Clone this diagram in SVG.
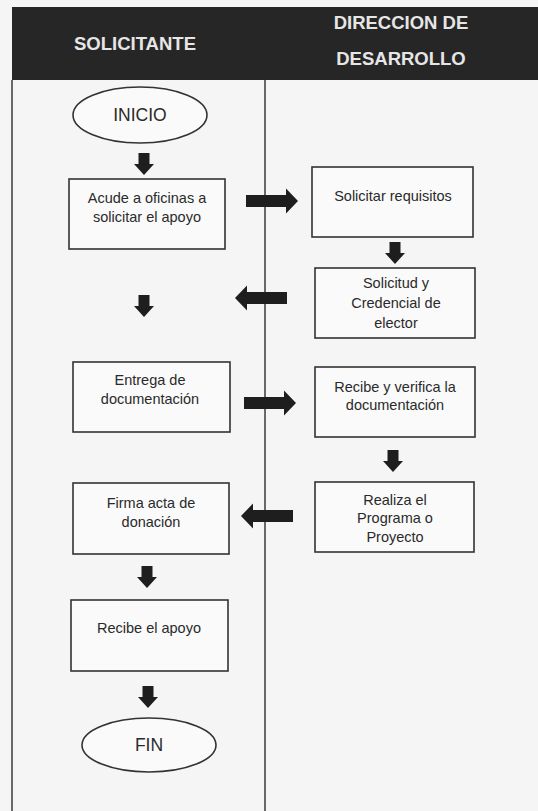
<svg xmlns="http://www.w3.org/2000/svg" width="538" height="811" viewBox="0 0 538 811">
<defs>
<style>
.bg{fill:#f5f5f5}
.hdr{fill:#262626}
.ht{font-family:"Liberation Sans",Arial,sans-serif;font-weight:bold;font-size:18.5px;fill:#e6e6e6;text-anchor:middle}
.lane{stroke:#3a3a3a;stroke-width:1.5;fill:none}
.box{fill:#fafafa;stroke:#333;stroke-width:1.6}
.t{font-family:"Liberation Sans",Arial,sans-serif;font-size:14.5px;fill:#2a2a2a;text-anchor:middle}
.big{font-size:17.5px}
.arr{fill:#1e1e1e}
</style>
<path id="ar" d="M0,-6 L40,-6 L40,-12.5 L52,0 L40,12.5 L40,6 L0,6 Z"/>
<path id="ad" d="M-5.5,0 L5.5,0 L5.5,11 L10,11 L0,22 L-10,11 L-5.5,11 Z"/>
</defs>
<rect class="bg" x="0" y="0" width="538" height="811"/>
<g id="header">
<rect class="hdr" x="12" y="7" width="526" height="73"/>
<text class="ht" x="135" y="50">SOLICITANTE</text>
<text class="ht" x="401" y="29">DIRECCION DE</text>
<text class="ht" x="401" y="65">DESARROLLO</text>
</g>
<g id="lanes">
<line class="lane" x1="12" y1="80" x2="12" y2="811"/>
<line class="lane" x1="265" y1="80" x2="265" y2="811"/>
</g>
<g id="connectors">
<use href="#ad" class="arr" x="144" y="153"/>
<use href="#ar" class="arr" x="246" y="201"/>
<use href="#ad" class="arr" x="395" y="242"/>
<use href="#ar" class="arr" transform="translate(287,298) scale(-1,1)"/>
<use href="#ad" class="arr" x="144" y="295"/>
<use href="#ar" class="arr" x="244" y="403"/>
<use href="#ad" class="arr" x="393" y="450"/>
<use href="#ar" class="arr" transform="translate(293,516) scale(-1,1)"/>
<use href="#ad" class="arr" x="147" y="566"/>
<use href="#ad" class="arr" x="148" y="686"/>
</g>
<g id="inicio">
<ellipse class="box" cx="140" cy="115" rx="67" ry="28"/>
<text class="t big" x="140" y="121">INICIO</text>
</g>
<g id="acude">
<rect class="box" x="69" y="179" width="156" height="70"/>
<text class="t" x="147" y="203">Acude a oficinas a</text>
<text class="t" x="147" y="222">solicitar el apoyo</text>
</g>
<g id="solicitar">
<rect class="box" x="312" y="167" width="161" height="70"/>
<text class="t" x="393" y="201">Solicitar requisitos</text>
</g>
<g id="solicitud">
<rect class="box" x="315" y="268" width="160" height="70"/>
<text class="t" x="396" y="288">Solicitud y</text>
<text class="t" x="396" y="308">Credencial de</text>
<text class="t" x="396" y="328">elector</text>
</g>
<g id="entrega">
<rect class="box" x="73" y="362" width="157" height="70"/>
<text class="t" x="150" y="385">Entrega de</text>
<text class="t" x="150" y="404">documentación</text>
</g>
<g id="recibe_verifica">
<rect class="box" x="315" y="367" width="160" height="70"/>
<text class="t" x="395" y="392">Recibe y verifica la</text>
<text class="t" x="395" y="410">documentación</text>
</g>
<g id="realiza">
<rect class="box" x="315" y="482" width="159" height="70"/>
<text class="t" x="395" y="505">Realiza el</text>
<text class="t" x="395" y="523">Programa o</text>
<text class="t" x="395" y="542">Proyecto</text>
</g>
<g id="firma">
<rect class="box" x="73" y="483" width="156" height="71"/>
<text class="t" x="151" y="508">Firma acta de</text>
<text class="t" x="151" y="527">donación</text>
</g>
<g id="recibe_apoyo">
<rect class="box" x="71" y="600" width="157" height="71"/>
<text class="t" x="149" y="633">Recibe el apoyo</text>
</g>
<g id="fin">
<ellipse class="box" cx="149" cy="745" rx="67" ry="27"/>
<text class="t big" x="149" y="751">FIN</text>
</g>
</svg>
